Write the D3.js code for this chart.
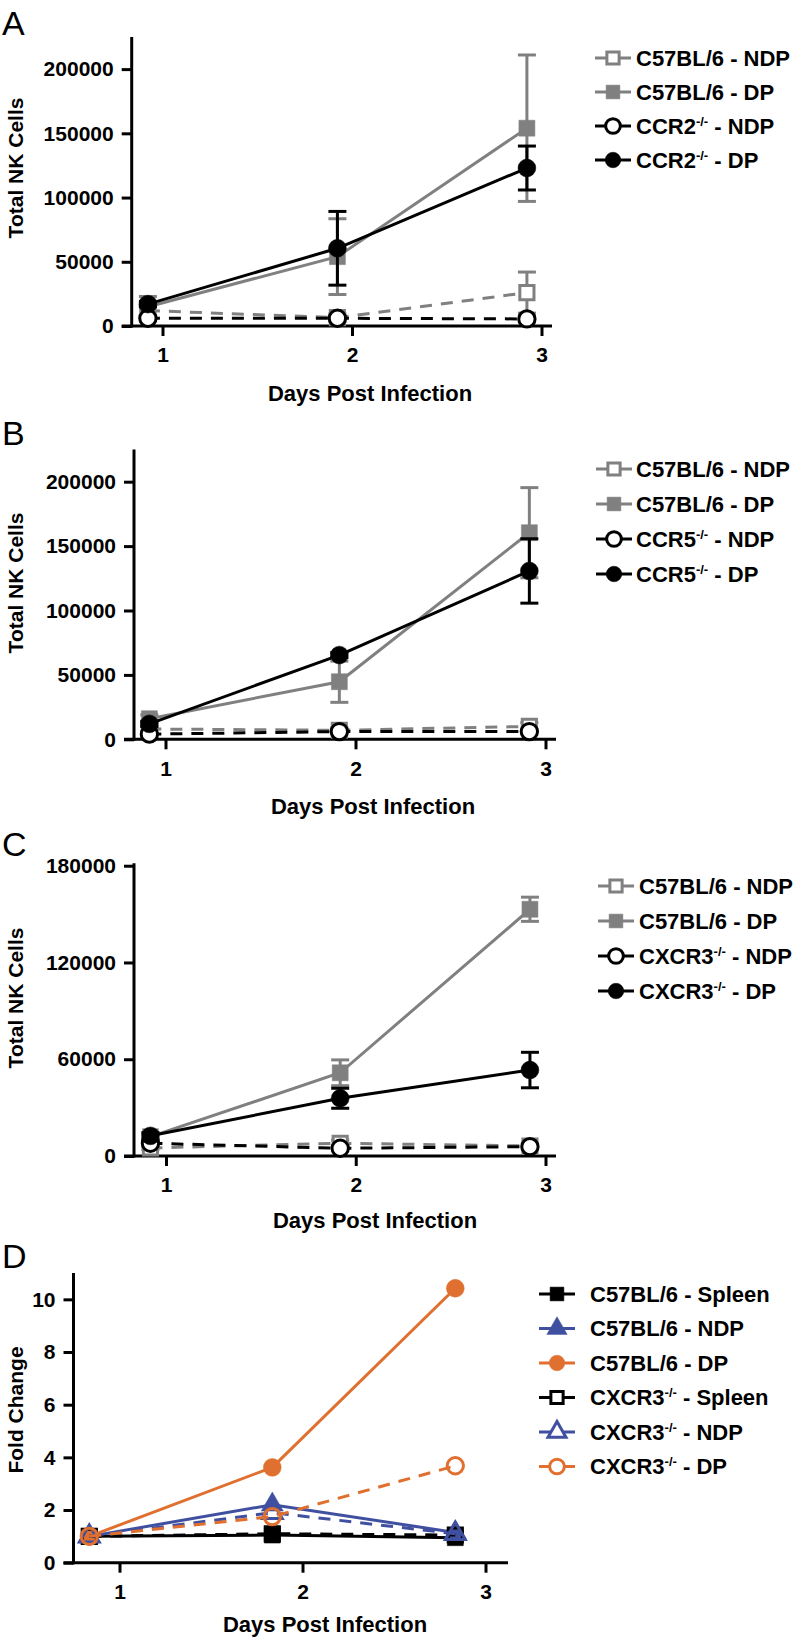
<!DOCTYPE html>
<html><head><meta charset="utf-8">
<script src="https://cdn.jsdelivr.net/npm/d3@7"></script>
<style>
body{margin:0;background:#fff}
svg{display:block}
</style>
</head><body>
<svg id="c" width="799" height="1637"></svg>
<script>
// ---------- DATA ----------
const days = [1, 2, 3];
const xTickValues = [1, 2, 3];
const yTicksAB = [0, 50000, 100000, 150000, 200000];
const yTicksC = [0, 60000, 120000, 180000];
const yTicksD = [0, 2, 4, 6, 8, 10];
const xTitle = "Days Post Infection";
const yTitleNK = "Total NK Cells";
const yTitleFold = "Fold Change";

// Panel A
const A_labels = ["C57BL/6 - NDP", "C57BL/6 - DP", "CCR2-/- - NDP", "CCR2-/- - DP"];
const A_C57_NDP = [12000, 6500, 26000];
const A_C57_NDP_err = [4000, 3000, 16000];
const A_C57_DP = [15000, 54000, 154000];
const A_C57_DP_err = [8000, 29500, 57000];
const A_KO_NDP = [6000, 6000, 5500];
const A_KO_NDP_err = [0, 0, 0];
const A_KO_DP = [17000, 60500, 123000];
const A_KO_DP_err = [2000, 28700, 17100];

// Panel B
const B_labels = ["C57BL/6 - NDP", "C57BL/6 - DP", "CCR5-/- - NDP", "CCR5-/- - DP"];
const B_C57_NDP = [8000, 7000, 10000];
const B_C57_NDP_err = [2000, 2000, 3000];
const B_C57_DP = [16000, 44700, 160400];
const B_C57_DP_err = [3000, 16000, 35000];
const B_KO_NDP = [4000, 6000, 6000];
const B_KO_NDP_err = [0, 0, 0];
const B_KO_DP = [12000, 65400, 130700];
const B_KO_DP_err = [2000, 2000, 25000];

// Panel C
const C_labels = ["C57BL/6 - NDP", "C57BL/6 - DP", "CXCR3-/- - NDP", "CXCR3-/- - DP"];
const C_C57_NDP = [5000, 7900, 6200];
const C_C57_NDP_err = [1000, 2000, 1000];
const C_C57_DP = [12000, 51600, 153000];
const C_C57_DP_err = [2000, 8000, 7500];
const C_KO_NDP = [7900, 4800, 5800];
const C_KO_NDP_err = [0, 0, 0];
const C_KO_DP = [12500, 35800, 53300];
const C_KO_DP_err = [2000, 6200, 11000];

// Panel D (fold change)
const D_labels = ["C57BL/6 - Spleen", "C57BL/6 - NDP", "C57BL/6 - DP", "CXCR3-/- - Spleen", "CXCR3-/- - NDP", "CXCR3-/- - DP"];
const D_C57_Spleen = [1.0, 1.05, 0.95];
const D_C57_NDP = [1.0, 2.2, 1.15];
const D_C57_DP = [1.0, 3.62, 10.42];
const D_KO_Spleen = [1.0, 1.1, 1.05];
const D_KO_NDP = [1.0, 1.9, 1.1];
const D_KO_DP = [1.0, 1.75, 3.68];

// ---------- STYLE ----------
const FONT = '"Liberation Sans", Arial, Helvetica, sans-serif';
const GRAY = "#808080", BLACK = "#000000", BLUE = "#4050A0", ORANGE = "#E07030";
const DASH = "12,9";

const svg = d3.select("#c");

function markerPath(type, size) {
  const t = type === "circle" ? d3.symbolCircle : type === "square" ? d3.symbolSquare : d3.symbolTriangle;
  return d3.symbol().type(t).size(size)();
}

function drawMarker(g, s, cx, cy, legend, openFill) {
  const open = s.open;
  let size;
  if (s.marker === "circle") size = open ? (legend ? 170 : 210) : (legend ? 190 : 250);
  else if (s.marker === "square") size = open ? (legend ? 150 : 200) : (legend ? 190 : 256);
  else size = open ? (legend ? 140 : 170) : (legend ? 180 : 210);
  g.append("path")
    .attr("d", markerPath(s.marker, size))
    .attr("transform", `translate(${cx},${cy})`)
    .attr("fill", open ? openFill : s.color)
    .attr("stroke", s.color)
    .attr("stroke-width", open ? 3 : 0.5);
}

function drawPanel(cfg) {
  const g = svg.append("g");
  const x = d3.scaleLinear().domain([1, 3]).range([cfg.x1, cfg.x3]);
  const y = d3.scaleLinear().domain([0, cfg.yMax]).range([cfg.y0, cfg.yTop]);

  // panel letter
  g.append("text").attr("x", 2).attr("y", cfg.letterY)
    .attr("font-family", FONT).attr("font-size", 34).text(cfg.letter);

  // y axis
  const gy = g.append("g").attr("transform", `translate(${cfg.axisX},0)`)
    .call(d3.axisLeft(y).tickValues(cfg.yTicks).tickSize(10).tickPadding(8).tickFormat(d3.format("d")));
  gy.select(".domain").remove();
  gy.selectAll(".tick line").attr("stroke", "#000").attr("stroke-width", 3);
  gy.selectAll(".tick text").attr("font-family", FONT).attr("font-size", 21)
    .attr("font-weight", "bold").attr("fill", "#000");
  g.append("line").attr("x1", cfg.axisX).attr("x2", cfg.axisX)
    .attr("y1", y(0) + 1.5).attr("y2", y(cfg.yMax))
    .attr("stroke", "#000").attr("stroke-width", 3);

  // x axis
  const gx = g.append("g").attr("transform", `translate(0,${cfg.y0})`)
    .call(d3.axisBottom(x).tickValues(xTickValues).tickSize(10).tickFormat(d3.format("d")));
  gx.select(".domain").remove();
  gx.selectAll(".tick line").attr("stroke", "#000").attr("stroke-width", 3);
  gx.selectAll(".tick text").attr("font-family", FONT).attr("font-size", 21)
    .attr("font-weight", "bold").attr("fill", "#000").attr("y", 29).attr("dy", "0.35em");
  g.append("line").attr("x1", cfg.axisX - 10).attr("x2", cfg.axisEnd)
    .attr("y1", cfg.y0).attr("y2", cfg.y0)
    .attr("stroke", "#000").attr("stroke-width", 3);

  // titles
  g.append("text").attr("transform", `translate(16,${cfg.yTitleY}) rotate(-90)`)
    .attr("dy", "0.35em").attr("text-anchor", "middle")
    .attr("font-family", FONT).attr("font-size", 21).attr("font-weight", "bold").text(cfg.yTitle);
  g.append("text").attr("x", cfg.xTitleX).attr("y", cfg.xTitleY).attr("dy", "0.35em")
    .attr("text-anchor", "middle")
    .attr("font-family", FONT).attr("font-size", 22).attr("font-weight", "bold").text(xTitle);

  // series
  const line = d3.line().x(d => x(d.day + cfg.xShift)).y(d => y(d.v));
  cfg.series.forEach(s => {
    const pts = days.map((d, i) => ({ day: d, v: s.values[i], e: s.err ? s.err[i] : 0 }));
    g.append("path").datum(pts).attr("d", line)
      .attr("fill", "none").attr("stroke", s.color).attr("stroke-width", 3)
      .attr("stroke-dasharray", s.dashed ? DASH : null);
    pts.forEach(p => {
      if (p.e > 0) {
        const cx = x(p.day + cfg.xShift);
        g.append("line").attr("x1", cx).attr("x2", cx).attr("y1", y(p.v - p.e)).attr("y2", y(p.v + p.e))
          .attr("stroke", s.color).attr("stroke-width", 3);
        [p.v - p.e, p.v + p.e].forEach(v => {
          g.append("line").attr("x1", cx - 9).attr("x2", cx + 9).attr("y1", y(v)).attr("y2", y(v))
            .attr("stroke", s.color).attr("stroke-width", 3);
        });
      }
    });
    pts.forEach(p => drawMarker(g, s, x(p.day + cfg.xShift), y(p.v), false, cfg.openFill));
  });

  // legend
  cfg.series.forEach((s, i) => {
    const ly = cfg.legY + i * cfg.legDy;
    g.append("line").attr("x1", cfg.legMx - 18).attr("x2", cfg.legMx + 18)
      .attr("y1", ly).attr("y2", ly).attr("stroke", s.color).attr("stroke-width", 3);
    drawMarker(g, s, cfg.legMx, ly, true, "#fff");
    const t = g.append("text").attr("x", cfg.legTx).attr("y", ly).attr("dy", "0.36em")
      .attr("font-family", FONT).attr("font-size", 22).attr("font-weight", "bold");
    const parts = s.label.split("-/-");
    if (parts.length === 2) {
      t.append("tspan").text(parts[0]);
      t.append("tspan").attr("font-size", 13).attr("dy", -8).text("-/-");
      t.append("tspan").attr("dy", 8).text(parts[1]);
    } else {
      t.text(s.label);
    }
  });
}

function fourSeries(labels, ndp, ndpE, dp, dpE, kndp, kndpE, kdp, kdpE) {
  return [
    { label: labels[0], values: ndp, err: ndpE, color: GRAY, marker: "square", open: true, dashed: true },
    { label: labels[1], values: dp, err: dpE, color: GRAY, marker: "square", open: false, dashed: false },
    { label: labels[2], values: kndp, err: kndpE, color: BLACK, marker: "circle", open: true, dashed: true },
    { label: labels[3], values: kdp, err: kdpE, color: BLACK, marker: "circle", open: false, dashed: false }
  ];
}

drawPanel({
  letter: "A", letterY: 35, axisX: 131.7, x1: 162.5, x3: 541.5, axisEnd: 552,
  y0: 326, yTop: 37, yMax: 225000, yTicks: yTicksAB, xShift: -0.077, openFill: "#fff",
  yTitle: yTitleNK, yTitleY: 168, xTitleX: 370, xTitleY: 393,
  legY: 58, legDy: 34, legMx: 613, legTx: 636,
  series: fourSeries(A_labels, A_C57_NDP, A_C57_NDP_err, A_C57_DP, A_C57_DP_err, A_KO_NDP, A_KO_NDP_err, A_KO_DP, A_KO_DP_err)
});
drawPanel({
  letter: "B", letterY: 445, axisX: 134, x1: 165.5, x3: 545.5, axisEnd: 556,
  y0: 739.3, yTop: 449.5, yMax: 225000, yTicks: yTicksAB, xShift: -0.085, openFill: "#fff",
  yTitle: yTitleNK, yTitleY: 583, xTitleX: 373, xTitleY: 806.7,
  legY: 469, legDy: 35, legMx: 614, legTx: 636,
  series: fourSeries(B_labels, B_C57_NDP, B_C57_NDP_err, B_C57_DP, B_C57_DP_err, B_KO_NDP, B_KO_NDP_err, B_KO_DP, B_KO_DP_err)
});
drawPanel({
  letter: "C", letterY: 856, axisX: 134, x1: 166, x3: 545.5, axisEnd: 556,
  y0: 1156, yTop: 863.3, yMax: 181500, yTicks: yTicksC, xShift: -0.082, openFill: "#fff",
  yTitle: yTitleNK, yTitleY: 998, xTitleX: 375, xTitleY: 1220,
  legY: 886, legDy: 35, legMx: 616, legTx: 639,
  series: fourSeries(C_labels, C_C57_NDP, C_C57_NDP_err, C_C57_DP, C_C57_DP_err, C_KO_NDP, C_KO_NDP_err, C_KO_DP, C_KO_DP_err)
});
drawPanel({
  letter: "D", letterY: 1268, axisX: 73.5, x1: 119.5, x3: 485.5, axisEnd: 508,
  y0: 1562.7, yTop: 1273, yMax: 11, yTicks: yTicksD, xShift: -0.165, openFill: "none",
  yTitle: yTitleFold, yTitleY: 1410, xTitleX: 325, xTitleY: 1624,
  legY: 1294, legDy: 34.5, legMx: 557, legTx: 590,
  series: [
    { label: D_labels[0], values: D_C57_Spleen, color: BLACK, marker: "square", open: false, dashed: false },
    { label: D_labels[1], values: D_C57_NDP, color: BLUE, marker: "triangle", open: false, dashed: false },
    { label: D_labels[2], values: D_C57_DP, color: ORANGE, marker: "circle", open: false, dashed: false },
    { label: D_labels[3], values: D_KO_Spleen, color: BLACK, marker: "square", open: true, dashed: true },
    { label: D_labels[4], values: D_KO_NDP, color: BLUE, marker: "triangle", open: true, dashed: true },
    { label: D_labels[5], values: D_KO_DP, color: ORANGE, marker: "circle", open: true, dashed: true }
  ]
});
</script>
</body></html>
